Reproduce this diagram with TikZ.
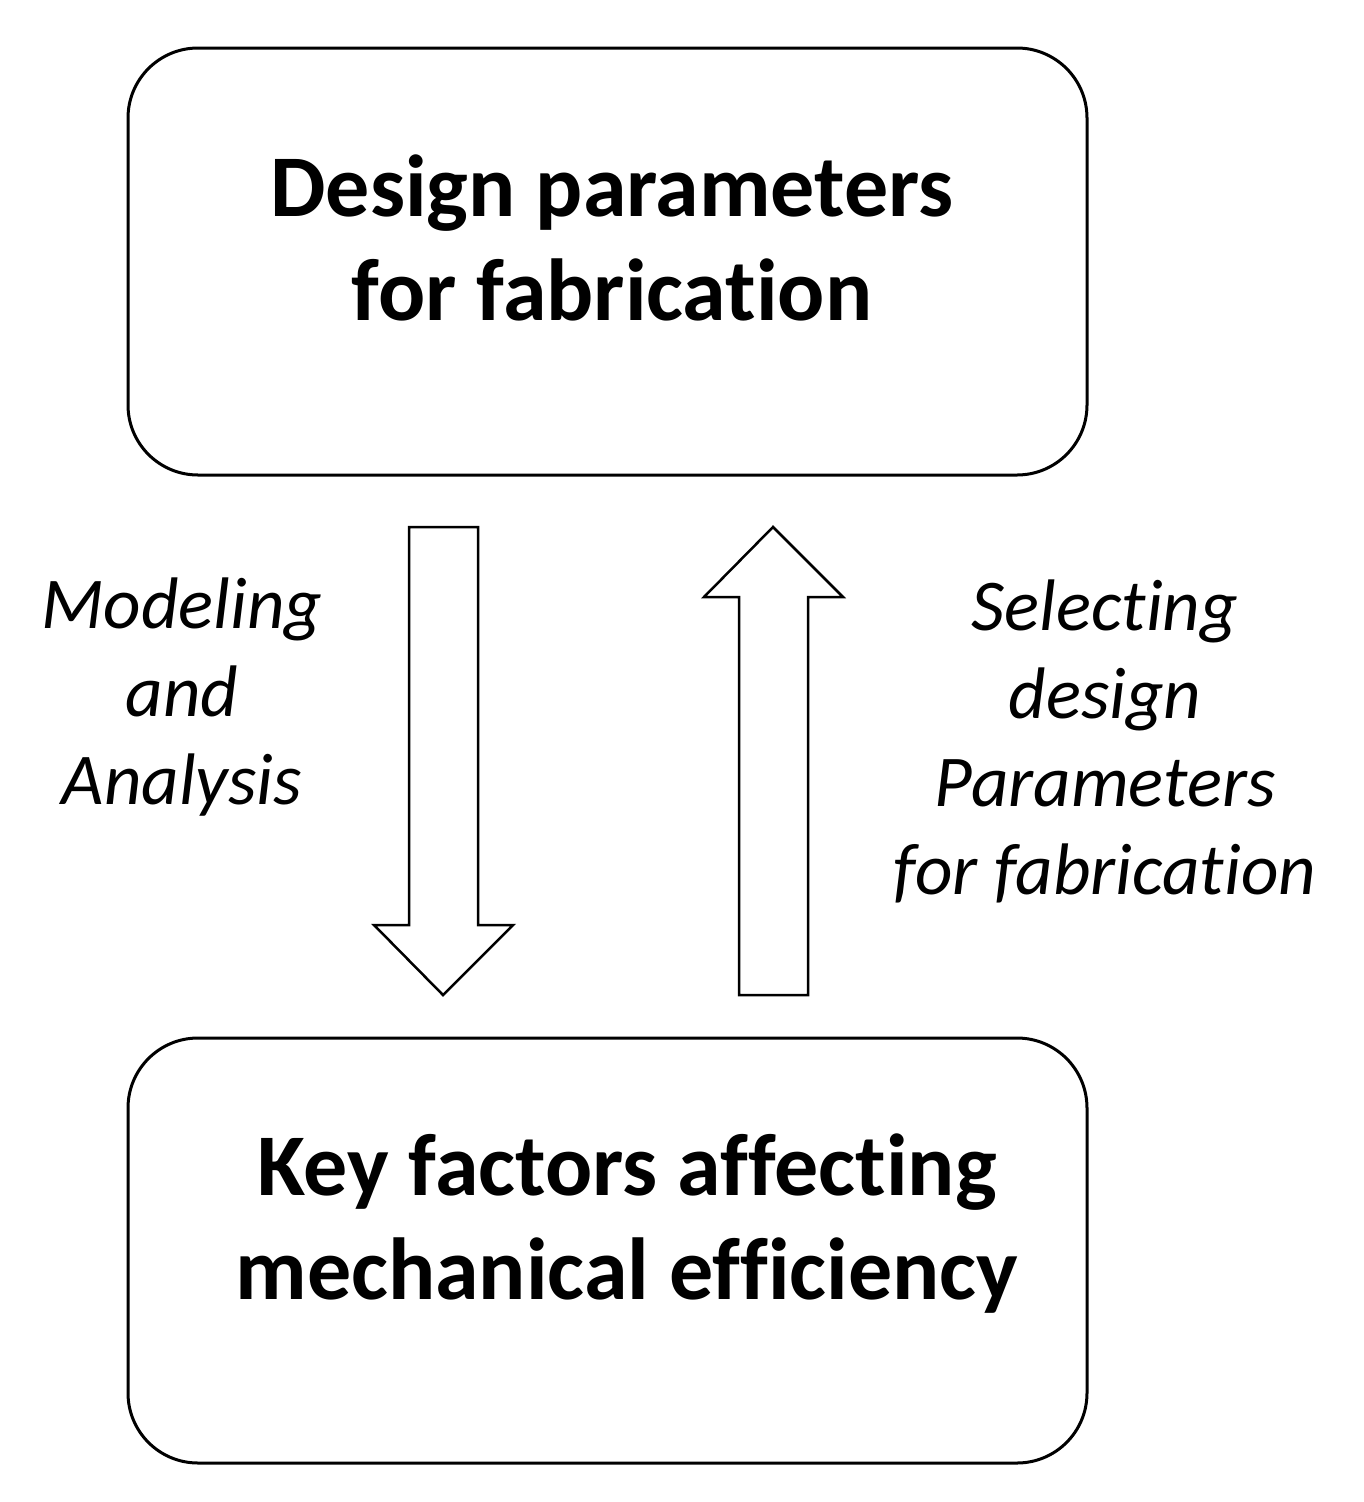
\documentclass[tikz,border=0pt]{standalone}
\usepackage{fontspec}
\setmainfont[Ligatures=NoCommon]{Carlito}
\begin{document}
\begin{tikzpicture}[x=1pt,y=-1pt,
  box/.style={draw,line width=3pt,rounded corners=70pt},
  big/.style={font=\fontsize{88}{104}\selectfont\bfseries,align=center},
  lab/.style={font=\fontsize{73}{88}\selectfont\itshape,align=center},
  arr/.style={draw,line width=2.5pt,fill=white}]
\useasboundingbox (0,0) rectangle (1364,1502);
\draw[box] (128,48) rectangle (1087,475);
\draw[box] (128,1038) rectangle (1087,1463);
\node[big] (top) at (612,238) {Design parameters\\for fabrication};
\node[big] (bot) at (627,1224) {Key factors affecting\\mechanical efficiency};
\draw[arr] (409,527) -- (478,527) -- (478,925) -- (513,925) -- (443,995) -- (374,925) -- (409,925) -- cycle;
\draw[arr] (739,995) -- (808,995) -- (808,597) -- (843,597) -- (773,527) -- (704,597) -- (739,597) -- cycle;
\node[lab] (l) at (182,697) {Modeling\\and\\Analysis};
\node[lab] (r) at (1105,741) {Selecting\\design\\Parameters\\for fabrication};
\end{tikzpicture}
\end{document}
